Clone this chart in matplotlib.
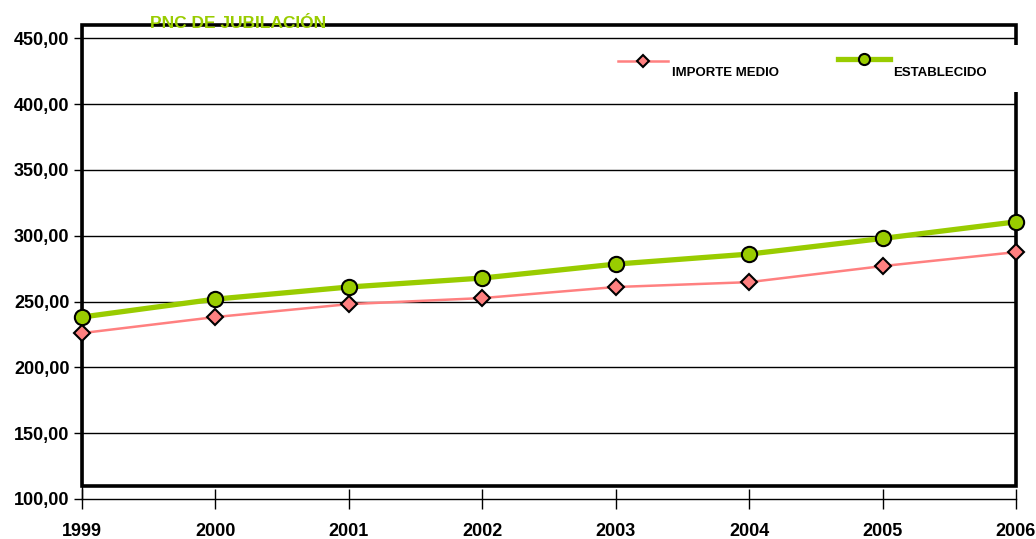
import matplotlib.pyplot as plt
from matplotlib.patches import Rectangle
from matplotlib.lines import Line2D

plt.rcParams['font.family'] = ['Liberation Sans Narrow', 'Liberation Sans', 'DejaVu Sans']

# data
years = [1999, 2000, 2001, 2002, 2003, 2004, 2005, 2006]
importe_medio = [226.0, 238.2, 248.0, 252.6, 261.0, 264.7, 276.9, 287.5]
establecido = [238.2, 251.8, 261.0, 267.8, 278.4, 286.0, 297.9, 310.5]
y_ticks = [100, 150, 200, 250, 300, 350, 400, 450]
y_labels = ['100,00', '150,00', '200,00', '250,00', '300,00', '350,00', '400,00', '450,00']

PINK = '#ff8080'
GREEN = '#99cc00'

fig = plt.figure(figsize=(10.36, 5.39), dpi=100)
W, H = 1036, 539
ax = fig.add_axes([82 / W, (H - 499) / H, (1016 - 82) / W, (499 - 25) / H])
ax.set_xlim(1999, 2006)
ax.set_ylim(100, 460)

# gridlines
for v in y_ticks[1:]:
    ax.plot([1999, 2006], [v, v], color='black', lw=1.0, zorder=1)

# frame box of the plot area
ax.add_patch(Rectangle((1999, 110), 7, 350, fill=False, lw=2.6, edgecolor='black',
                       zorder=2, clip_on=False))

ax.plot(years, importe_medio, color=PINK, lw=1.8, marker='D', ms=8,
        markerfacecolor=PINK, markeredgecolor='black', markeredgewidth=1.5,
        zorder=4, clip_on=False)
ax.plot(years, establecido, color=GREEN, lw=3.8, marker='o', ms=11,
        markerfacecolor=GREEN, markeredgecolor='black', markeredgewidth=1.5,
        zorder=5, clip_on=False)

for s in ['top', 'right']:
    ax.spines[s].set_visible(False)
ax.spines['left'].set_linewidth(1.0)
ax.spines['bottom'].set_linewidth(1.0)

ax.set_yticks(y_ticks)
ax.set_yticklabels(y_labels, fontsize=13, fontweight='bold')
ax.set_xticks(years)
ax.set_xticklabels([str(y) for y in years], fontsize=13, fontweight='bold')
ax.tick_params(axis='y', direction='out', length=6, width=1, pad=3)
ax.tick_params(axis='x', direction='inout', length=14, width=1, pad=10)

# title
fig.text(150 / W, 1 - 23 / H, 'PNC DE JUBILACIÓN', color=GREEN, fontsize=12.5,
         fontweight='bold', va='center', ha='left')

# legend
fig.patches.append(Rectangle((600 / W, 1 - 92 / H), 420 / W, 47 / H, transform=fig.transFigure,
                             facecolor='white', edgecolor='none', zorder=6))
fig.lines.append(Line2D([618 / W, 668 / W], [1 - 61 / H, 1 - 61 / H], transform=fig.transFigure,
                        color=PINK, lw=1.8, zorder=7))
fig.lines.append(Line2D([643 / W], [1 - 61 / H], transform=fig.transFigure, marker='D', ms=6,
                        markerfacecolor=PINK, markeredgecolor='black', markeredgewidth=1.5, zorder=8))
fig.text(672 / W, 1 - 73 / H, 'IMPORTE MEDIO', fontsize=9.5, fontweight='bold',
         va='center', ha='left', zorder=8)
fig.lines.append(Line2D([838 / W, 890 / W], [1 - 59 / H, 1 - 59 / H], transform=fig.transFigure,
                        color=GREEN, lw=3.8, zorder=7))
fig.lines.append(Line2D([864 / W], [1 - 59 / H], transform=fig.transFigure, marker='o', ms=8,
                        markerfacecolor=GREEN, markeredgecolor='black', markeredgewidth=1.5, zorder=8))
fig.text(893 / W, 1 - 73 / H, 'ESTABLECIDO', fontsize=9.5, fontweight='bold',
         va='center', ha='left', zorder=8)

fig.savefig('out.png', dpi=100)
